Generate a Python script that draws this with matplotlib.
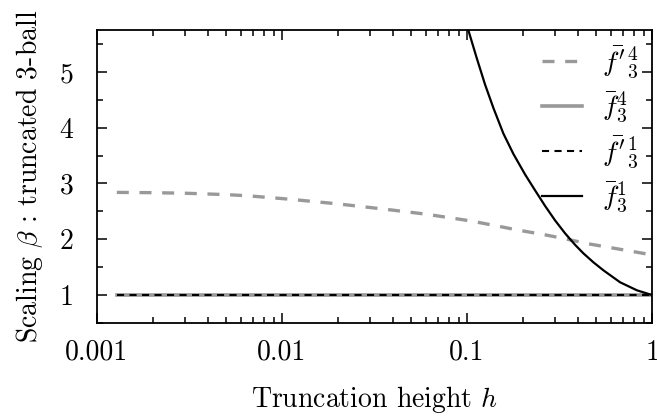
import matplotlib
matplotlib.use("Agg")
import matplotlib.pyplot as plt
from matplotlib.ticker import FixedLocator, FixedFormatter, LogLocator, MultipleLocator, NullFormatter

plt.rcParams['font.family'] = 'serif'
plt.rcParams['font.serif'] = ['cmr10', 'DejaVu Serif']
plt.rcParams['mathtext.fontset'] = 'cm'
plt.rcParams['axes.unicode_minus'] = False

# Data
h_fp4 = [0.00128, 0.002, 0.003, 0.005, 0.0065, 0.0108, 0.0199, 0.0347, 0.06, 0.104,
         0.142, 0.188, 0.254, 0.326, 0.45, 0.70, 1.0]
y_fp4 = [2.84, 2.835, 2.825, 2.80, 2.78, 2.72, 2.635, 2.545, 2.45, 2.33,
         2.245, 2.165, 2.09, 2.02, 1.92, 1.81, 1.72]

h_const = [0.00128, 1.0]
y_f4 = [1.0, 1.0]
y_fp1 = [1.0, 1.0]

h_f1 = [0.1, 0.1016, 0.1128, 0.1251, 0.1388, 0.1571, 0.178, 0.2058, 0.2332, 0.264,
        0.2989, 0.3386, 0.3835, 0.4251, 0.4816, 0.5454, 0.6714, 0.8268, 1.0]
y_f1 = [5.83, 5.746, 5.245, 4.771, 4.351, 3.894, 3.528, 3.161, 2.875, 2.597,
        2.338, 2.106, 1.90, 1.748, 1.587, 1.444, 1.229, 1.086, 1.0]

x_ticks = [0.001, 0.01, 0.1, 1]
x_ticklabels = ["0.001", "0.01", "0.1", "1"]
y_ticks = [1, 2, 3, 4, 5]

labels = [r"$\bar{f'}_3^4$", r"$\bar{f}_3^4$", r"$\bar{f'}_3^1$", r"$\bar{f}_3^1$"]

gray = "#999999"
FS = 20
fig = plt.figure(figsize=(6.57, 4.16), dpi=100)
ax = fig.add_axes([0.1476, 0.2236, 0.845, 0.7043])

ax.plot(h_fp4, y_fp4, color=gray, lw=2.4, ls=(0, (3.6, 3.2)), label=labels[0])
ax.plot(h_const, y_f4, color=gray, lw=2.6, label=labels[1])
ax.plot(h_const, y_fp1, color="black", lw=1.5, ls=(0, (3.4, 2.6)), label=labels[2])
ax.plot(h_f1, y_f1, color="black", lw=1.6, label=labels[3])

ax.set_xscale("log")
ax.set_xlim(0.001, 1)
ax.set_ylim(0.5, 5.75)
ax.xaxis.set_major_locator(FixedLocator(x_ticks))
ax.xaxis.set_major_formatter(FixedFormatter(x_ticklabels))
ax.xaxis.set_minor_locator(LogLocator(base=10, subs=range(2, 10)))
ax.xaxis.set_minor_formatter(NullFormatter())
ax.yaxis.set_major_locator(FixedLocator(y_ticks))
ax.yaxis.set_minor_locator(MultipleLocator(0.5))

ax.tick_params(which="both", direction="in", top=True, right=True, labelsize=FS, width=1.1)
ax.tick_params(which="major", length=7)
ax.tick_params(axis="x", which="major", pad=12)
ax.tick_params(axis="y", which="major", pad=17)
ax.tick_params(which="minor", length=4)
for s in ax.spines.values():
    s.set_linewidth(1.3)

ax.set_xlabel(r"Truncation height $h$", fontsize=FS, labelpad=13)
ax.set_ylabel(r"Scaling $\beta$ : truncated 3-ball", fontsize=FS, labelpad=10)

leg = ax.legend(loc="upper right", frameon=False, fontsize=FS, handlelength=1.45,
                labelspacing=0.35, borderaxespad=0.1, handletextpad=0.7)

fig.savefig("out.png", dpi=100)
